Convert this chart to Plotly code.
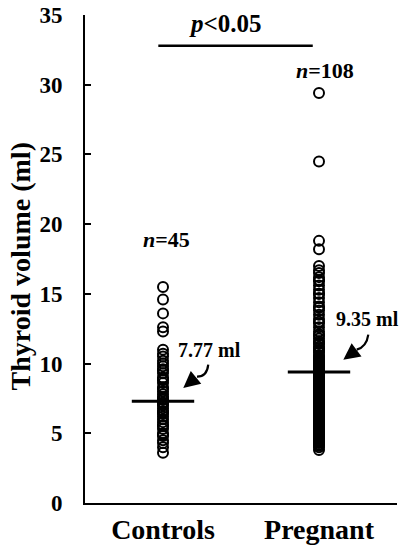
import plotly.graph_objects as go

categories = ["Controls", "Pregnant"]
cat_pos = [0, 1]

controls = [15.5, 14.6, 13.6, 12.6, 12.3,
            11.0, 10.7, 10.5, 10.2, 10.0, 9.8, 9.6, 9.5, 9.3, 9.0,
            8.9, 8.8, 8.6, 8.3, 8.2, 8.0, 7.8, 7.6, 7.5, 7.4,
            7.2, 7.1, 7.0, 6.8, 6.6, 6.5, 6.4, 6.2, 6.0, 5.8,
            5.6, 5.5, 5.3, 5.0, 4.9, 4.8, 4.5, 4.3, 4.0, 3.6]

pregnant = [29.4, 24.5, 18.8, 18.2,
            17.0, 16.7, 16.5, 16.2, 16.0, 15.9, 15.6, 15.3, 15.0, 15.0,
            14.7, 14.4, 14.1, 14.0, 13.8, 13.5, 13.2, 13.0, 12.9, 12.6,
            12.3, 12.1, 12.0, 11.8, 11.6, 11.5, 11.4, 11.2, 11.1, 11.0,
            10.9, 10.8, 10.6, 10.5, 10.4, 10.3, 10.2, 10.1, 10.0, 9.9,
            9.8, 9.7, 9.6, 9.5, 9.4, 9.3, 9.2, 9.1, 9.0, 9.0,
            8.9, 8.8, 8.7, 8.6, 8.5, 8.4, 8.3, 8.2, 8.1, 8.0,
            8.0, 7.9, 7.8, 7.7, 7.6, 7.5, 7.4, 7.3, 7.2, 7.1,
            7.0, 7.0, 6.9, 6.8, 6.7, 6.6, 6.5, 6.4, 6.3, 6.2,
            6.1, 6.0, 6.0, 5.9, 5.8, 5.7, 5.6, 5.5, 5.4, 5.3,
            5.2, 5.1, 5.0, 4.9, 4.8, 4.7, 4.6, 4.5, 4.4, 4.3,
            4.2, 4.1, 3.8, 4.0]

mean_lines = [7.3, 9.4]
mean_labels = ["7.77 ml", "9.35 ml"]
n_labels = ["<i>n</i>=45", "<i>n</i>=108"]
p_label = "<i>p</i><0.05"
y_title = "Thyroid volume (ml)"
y_ticks = [0, 5, 10, 15, 20, 25, 30, 35]

FONT = "Liberation Serif"

fig = go.Figure()

marker = dict(symbol="circle-open", size=10, color="black", line=dict(color="black", width=2))
fig.add_trace(go.Scatter(x=[cat_pos[0]] * len(controls), y=controls, mode="markers",
                         marker=marker, showlegend=False, cliponaxis=False))
fig.add_trace(go.Scatter(x=[cat_pos[1]] * len(pregnant), y=pregnant, mode="markers",
                         marker=marker, showlegend=False, cliponaxis=False))

# mean lines
for pos, m in zip(cat_pos, mean_lines):
    fig.add_trace(go.Scatter(x=[pos - 0.2, pos + 0.2], y=[m, m], mode="lines",
                             line=dict(color="black", width=3), showlegend=False))

# significance bar
fig.add_shape(type="line", x0=-0.03, x1=0.96, y0=32.8, y1=32.8,
              line=dict(color="black", width=2.5))

annotations = []
ann_font = dict(family=FONT, size=22, color="black")
annotations.append(dict(x=0.40, y=34.4, text="<b>" + p_label + "</b>", showarrow=False,
                        font=dict(family=FONT, size=25, color="black")))
annotations.append(dict(x=0.02, y=18.9, text="<b>" + n_labels[0] + "</b>", showarrow=False, font=ann_font))
annotations.append(dict(x=1.04, y=31.0, text="<b>" + n_labels[1] + "</b>", showarrow=False, font=ann_font))
annotations.append(dict(x=0.30, y=11.0, text="<b>" + mean_labels[0] + "</b>", showarrow=False,
                        font=dict(family=FONT, size=20, color="black")))
annotations.append(dict(x=1.31, y=13.2, text="<b>" + mean_labels[1] + "</b>", showarrow=False,
                        font=dict(family=FONT, size=20, color="black")))

# curved arrows: tail curves + heads
arrow_defs = [
    # start(x,y), ctrl(x,y), end(x,y), tip(x,y)
    ((0.290, 9.92), (0.282, 9.05), (0.218, 9.06), (0.130, 8.25)),
    ((1.316, 12.08), (1.305, 11.21), (1.242, 11.0), (1.156, 10.28)),
]
for s, c, e, t in arrow_defs:
    fig.add_shape(type="path",
                  path=f"M {s[0]},{s[1]} Q {c[0]},{c[1]} {e[0]},{e[1]}",
                  line=dict(color="black", width=2.2))
    annotations.append(dict(x=t[0], y=t[1], ax=e[0], ay=e[1], axref="x", ayref="y",
                            text="", showarrow=True, arrowhead=2, arrowsize=1.5,
                            arrowwidth=2.2, arrowcolor="black", standoff=0))

annotations.append(dict(x=-0.208, y=0.485, xref="paper", yref="paper", text="<b>" + y_title + "</b>",
                        xanchor="center", yanchor="middle",
                        textangle=-90, showarrow=False, font=dict(family=FONT, size=28, color="black")))

fig.update_layout(
    width=408, height=550,
    margin=dict(l=85, r=11, t=15, b=47),
    paper_bgcolor="white", plot_bgcolor="white",
    annotations=annotations,
    showlegend=False,
    font=dict(family=FONT, color="black"),
)
fig.update_xaxes(range=[-0.5, 1.5], tickvals=cat_pos, ticktext=["<b>" + c + "</b>" for c in categories],
                 automargin=False,
                 showgrid=False, zeroline=False, showline=True, linecolor="black", linewidth=2,
                 ticks="", tickfont=dict(family=FONT, size=28, color="black"))
fig.update_yaxes(range=[0, 35], tickvals=y_ticks, ticktext=["<b>%d</b>" % v for v in y_ticks],
                 automargin=False,
                 showgrid=False, zeroline=False, showline=True, linecolor="black", linewidth=2,
                 ticks="inside", ticklen=6, tickwidth=2, tickcolor="black",
                 ticklabelstandoff=16, tickfont=dict(family=FONT, size=23, color="black"))

fig.write_html("out.html", config={"displayModeBar": False},
               post_script="document.body.style.margin='0';document.body.style.overflow='hidden';")
